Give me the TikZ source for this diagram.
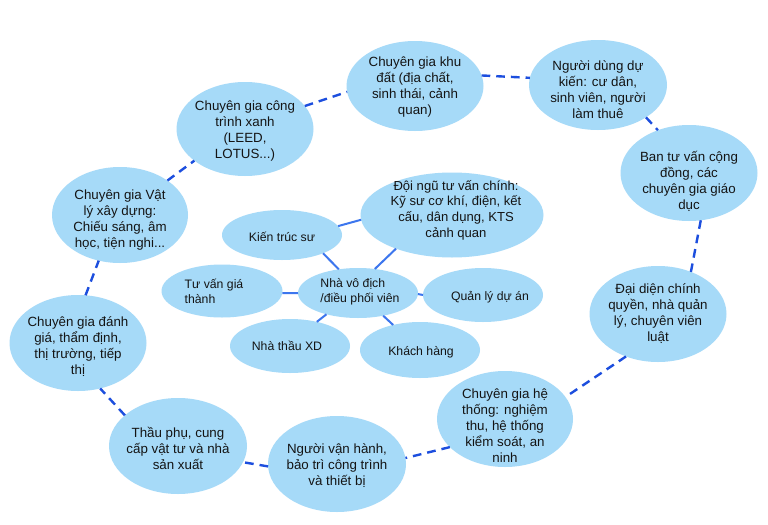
\documentclass[tikz,border=0pt]{standalone}
\usepackage{fontspec}
\setmainfont{Liberation Sans}
\usetikzlibrary{shapes.geometric}
\definecolor{bubfill}{RGB}{166,218,248}
\definecolor{solidc}{RGB}{60,118,238}
\definecolor{dashc}{RGB}{28,78,222}
\definecolor{txtc}{RGB}{20,20,20}
\begin{document}
\begin{tikzpicture}[x=0.75pt,y=-0.75pt,
  bub/.style 2 args={ellipse, fill=bubfill, draw=none, minimum width=#1*0.75pt, minimum height=#2*0.75pt, inner sep=0pt, outer sep=0pt},
  otxt/.style={font=\fontsize{10}{12}\selectfont, align=center, text=txtc, inner sep=0pt},
  itxt/.style={font=\fontsize{9.2}{11.4}\selectfont, align=center, text=txtc, inner sep=0pt},
  dashln/.style={draw=dashc, line width=1.8pt, dash pattern=on 6.5pt off 4.5pt},
  solidln/.style={draw=solidc, line width=1.5pt}]
\useasboundingbox (0,0) rectangle (768,525);
\fill[white] (0,0) rectangle (768,525);

% outer ring
\node[bub={137}{94}] (cx) at (245,129) {};
\node[bub={137}{90}] (kd) at (415,86) {};
\node[bub={138}{90}] (nd) at (598,85) {};
\node[bub={137}{96}] (bt) at (689,173) {};
\node[bub={137}{96}] (dd) at (658,314) {};
\node[bub={136}{96}] (ht) at (505,419) {};
\node[bub={138}{96}] (vh) at (337,464) {};
\node[bub={138}{96}] (tp) at (178,446) {};
\node[bub={137}{96}] (dg) at (78,343) {};
\node[bub={136}{96}] (vl) at (120,215) {};

% inner cluster
\node[bub={183}{85}] (dn) at (452,215) {};
\node[bub={120}{50}] (kt) at (282,235) {};
\node[bub={121}{53}] (tv) at (222,291) {};
\node[bub={120}{50}] (nv) at (358,293) {};
\node[bub={120}{54}] (ql) at (483,295) {};
\node[bub={120}{54}] (nt) at (290,346) {};
\node[bub={120}{56}] (kh) at (420,350) {};

% texts
\node[otxt] (cx-t) at (245,131) {Chuyên gia công\\trình xanh\\(LEED,\\LOTUS...)};
\node[otxt] (kd-t) at (415,87) {Chuyên gia khu\\đất (địa chất,\\sinh thái, cảnh\\quan)};
\node[otxt] (nd-t) at (598,90) {Người dùng dự\\kiến: cư dân,\\sinh viên, người\\làm thuê};
\node[otxt] (bt-t) at (689,181) {Ban tư vấn cộng\\đồng, các\\chuyên gia giáo\\dục};
\node[otxt] (dd-t) at (658,314) {Đại diện chính\\quyền, nhà quản\\lý, chuyên viên\\luật};
\node[otxt] (ht-t) at (505,426) {Chuyên gia hệ\\thống: nghiệm\\thu, hệ thống\\kiểm soát, an\\ninh};
\node[otxt] (vh-t) at (337,466) {Người vận hành,\\bảo trì công trình\\và thiết bị};
\node[otxt] (tp-t) at (178,448) {Thầu phụ, cung\\cấp vật tư và nhà\\sản xuất};
\node[otxt] (dg-t) at (78,347) {Chuyên gia đánh\\giá, thẩm định,\\thị trường, tiếp\\thị};
\node[otxt] (vl-t) at (120,220) {Chuyên gia Vật\\lý xây dựng:\\Chiếu sáng, âm\\học, tiện nghi...};

\node[itxt, font=\fontsize{9.8}{11.8}\selectfont] (dn-t) at (456,210) {Đội ngũ tư vấn chính:\\Kỹ sư cơ khí, điện, kết\\cấu, dân dụng, KTS\\cảnh quan};
\node[itxt] (kt-t) at (282,237) {Kiến trúc sư};
\node[itxt, align=left] (tv-t) at (214,291) {Tư vấn giá\\thành};
\node[itxt, align=left] (nv-t) at (360,292) {Nhà vô địch\\/điều phối viên};
\node[itxt] (ql-t) at (490,297) {Quản lý dự án};
\node[itxt] (nt-t) at (287,346) {Nhà thầu XD};
\node[itxt] (kh-t) at (421,352) {Khách hàng};

% dashed ring connectors
\draw[dashln] (cx.21.5) -- (kd.185);
\draw[dashln] (kd.9) -- (nd.174);
\draw[dashln] (nd.326) -- (bt.126);
\draw[dashln] (bt.284) -- (dd.52);
\draw[dashln] (dd.233) -- (ht.20);
\draw[dashln] (ht.207) -- (vh.5);
\draw[dashln] (vh.182) -- (tp.346);
\draw[dashln] (tp.150) -- (dg.296);
\draw[dashln] (dg.81) -- (vl.245);
\draw[dashln] (vl.36) -- (cx.212);

% solid inner connectors
\draw[solidln] (kt.9) -- (dn.183);
\draw[solidln] (kt.336) -- (nv.129);
\draw[solidln] (dn.211) -- (nv.55);
\draw[solidln] (tv.358) -- (nv.180);
\draw[solidln] (nv.359) -- (ql.180);
\draw[solidln] (nv.214) -- (nt.42);
\draw[solidln] (nv.318) -- (kh.137);
\end{tikzpicture}
\end{document}
